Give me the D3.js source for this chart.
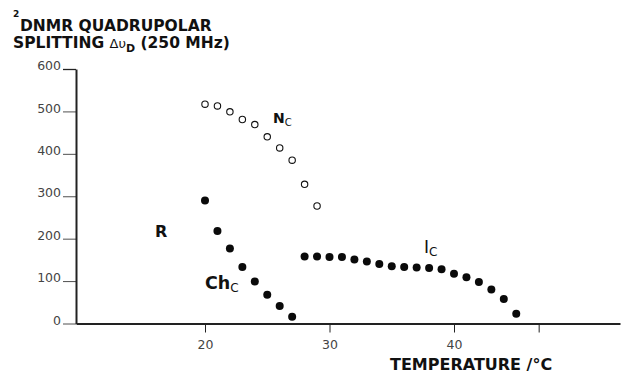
<!DOCTYPE html>
<html>
<head>
<meta charset="utf-8" />
<title>2H NMR quadrupolar splitting</title>
<script src="https://d3js.org/d3.v7.min.js"></script>
<style>
  body { margin: 0; background: #fff; }
  svg text { font-family: "DejaVu Sans", sans-serif; fill: #111; }
  .axis text { fill: #444; font-size: 12.5px; }
  .axis path, .axis line { stroke: #222; }
</style>
</head>
<body>
<div id="chart"></div>
<script>
// N* (nematic) phase - open circles
var ncTemp  = [20, 21, 22, 23, 24, 25, 26, 27, 28, 29];
var ncSplit = [517, 513, 499, 481, 469, 440, 414, 385, 328, 277];

// Ch phase - filled circles
var chTemp  = [20, 21, 22, 23, 24, 25, 26, 27];
var chSplit = [290, 218, 177, 133, 99, 68, 41, 16];

// I phase - filled circles
var icTemp  = [28, 29, 30, 31, 32, 33, 34, 35, 36, 37, 38, 39, 40, 41, 42, 43, 44, 45];
var icSplit = [158, 158, 157, 157, 151, 146, 140, 135, 133, 132, 131, 128, 117, 109, 98, 80, 58, 23];

var yTicks = [0, 100, 200, 300, 400, 500, 600];
var xTicks = [20, 30, 40, 46.8];
var xTickLabels = ["20", "30", "40", ""];

var width = 624, height = 374;

var svg = d3.select("#chart").append("svg")
    .attr("width", width)
    .attr("height", height);

var x = d3.scaleLinear().domain([20, 40]).range([205, 454]);
var y = d3.scaleLinear().domain([0, 600]).range([323.5, 69]);

// x axis runs across the whole frame
var xLeft = 76, xRight = 620;
var xAxisScale = x.copy().domain([x.invert(xLeft), x.invert(xRight)]).range([xLeft, xRight]);

var xAxis = d3.axisBottom(xAxisScale)
    .tickValues(xTicks)
    .tickFormat(function(d, i) { return xTickLabels[i]; })
    .tickSize(9)
    .tickSizeOuter(0)
    .tickPadding(8);

var yAxis = d3.axisLeft(y)
    .tickValues(yTicks)
    .tickSize(13)
    .tickSizeOuter(0)
    .tickPadding(2);

var gx = svg.append("g")
    .attr("class", "x axis")
    .attr("transform", "translate(0," + y(0) + ")")
    .call(xAxis);
gx.select(".domain").attr("stroke-width", 2);
gx.selectAll(".tick line").attr("stroke-width", 1);

var gy = svg.append("g")
    .attr("class", "y axis")
    .attr("transform", "translate(" + xLeft + ",0)")
    .call(yAxis);
gy.select(".domain").attr("stroke-width", 2);
gy.selectAll(".tick line")
    .attr("stroke-width", function(d) { return d == 600 ? 1.3 : 0.8; })
    .attr("stroke", function(d) { return d == 600 ? "#222" : "#777"; });
gy.selectAll(".tick text").attr("dy", "0.05em");

// points
function pairs(t, v) {
    return t.map(function(d, i) { return [d, v[i]]; });
}

svg.append("g").selectAll(".nc")
    .data(pairs(ncTemp, ncSplit))
    .enter().append("circle")
    .attr("class", "nc")
    .attr("cx", function(d) { return x(d[0]); })
    .attr("cy", function(d) { return y(d[1]); })
    .attr("r", 3.2)
    .style("fill", "#fff")
    .style("stroke", "#111")
    .style("stroke-width", 1.1);

svg.append("g").selectAll(".ch")
    .data(pairs(chTemp, chSplit).concat(pairs(icTemp, icSplit)))
    .enter().append("circle")
    .attr("class", "ch")
    .attr("cx", function(d) { return x(d[0]); })
    .attr("cy", function(d) { return y(d[1]); })
    .attr("r", 4)
    .style("fill", "#0a0a0a");

// title
svg.append("text")
    .attr("x", 13).attr("y", 17)
    .style("font-size", "9px").style("font-weight", "bold")
    .text("2");
svg.append("text")
    .attr("x", 20).attr("y", 31)
    .style("font-size", "15.5px").style("font-weight", "bold")
    .text("DNMR QUADRUPOLAR");

var t2 = svg.append("text")
    .attr("x", 13).attr("y", 48)
    .style("font-size", "15.5px").style("font-weight", "bold");
t2.append("tspan").text("SPLITTING ");
t2.append("tspan").style("font-size", "13px").style("font-weight", "normal").text("Δυ");
t2.append("tspan").attr("dy", 4).style("font-size", "11px").text("D");
t2.append("tspan").attr("dy", -4).text(" (250 MHz)");

// axis title
svg.append("text")
    .attr("x", 390).attr("y", 370)
    .style("font-size", "16px").style("font-weight", "bold")
    .text("TEMPERATURE /°C");

// phase labels
function phaseLabel(px, py, main, sub, size, weight) {
    var t = svg.append("text")
        .attr("x", px).attr("y", py)
        .style("font-size", size + "px")
        .style("font-weight", weight);
    t.append("tspan").text(main);
    if (sub) {
        t.append("tspan")
            .attr("dy", 3)
            .style("font-size", Math.round(size * 0.68) + "px")
            .style("font-weight", "normal")
            .text(sub);
    }
}

phaseLabel(273, 123, "N", "C", 14, "bold");
phaseLabel(155, 237, "R", null, 16, "bold");
phaseLabel(205, 289, "Ch", "C", 17.5, "bold");
phaseLabel(424, 253, "I", "C", 17, "normal");
</script>
</body>
</html>
